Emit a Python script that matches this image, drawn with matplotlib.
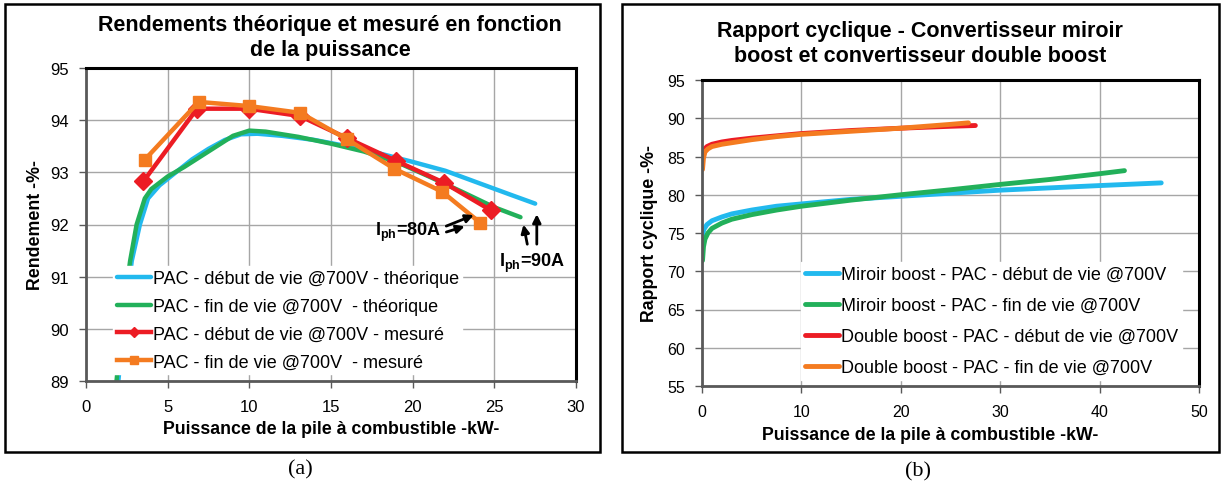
import numpy as np
import matplotlib
matplotlib.use("Agg")
import matplotlib.pyplot as plt
from matplotlib.patches import Rectangle

plt.rcParams['font.family'] = ['Liberation Sans', 'DejaVu Sans']
plt.rcParams['mathtext.fontset'] = 'custom'
plt.rcParams['mathtext.rm'] = 'Liberation Sans'
plt.rcParams['mathtext.bf'] = 'Liberation Sans:bold'

# ---- (a) rendement vs puissance ----
theo_debut_x = [1.85, 2.3, 2.8, 3.3, 3.8, 4.5, 5.5, 6.5, 7.5, 8.5, 9.5, 10.5, 12, 14, 16, 18, 20, 22, 24, 26, 27.5]
theo_debut_y = [88.6, 90.0, 91.3, 92.0, 92.5, 92.75, 93.0, 93.25, 93.45, 93.62, 93.73, 93.74, 93.7, 93.62, 93.5, 93.36, 93.2, 93.03, 92.8, 92.57, 92.4]
theo_fin_x = [1.75, 2.2, 2.7, 3.1, 3.6, 4.0, 5.0, 6.0, 7.0, 8.0, 9.0, 10.0, 11.0, 13.0, 15.0, 17.0, 19.0, 21.0, 23.0, 25.0, 26.6]
theo_fin_y = [88.6, 90.1, 91.3, 92.0, 92.5, 92.68, 92.92, 93.1, 93.3, 93.5, 93.7, 93.8, 93.78, 93.68, 93.55, 93.4, 93.2, 92.92, 92.63, 92.33, 92.14]
mes_debut_x = [3.52, 6.80, 9.97, 13.09, 15.95, 18.98, 21.92, 24.8]
mes_debut_y = [92.83, 94.22, 94.22, 94.08, 93.66, 93.22, 92.80, 92.27]
mes_fin_x = [3.59, 6.9, 10.0, 13.13, 16.0, 18.87, 21.8, 24.15]
mes_fin_y = [93.24, 94.35, 94.27, 94.14, 93.63, 93.07, 92.63, 92.03]

labels_a = ["PAC - début de vie @700V - théorique",
            "PAC - fin de vie @700V  - théorique",
            "PAC - début de vie @700V - mesuré",
            "PAC - fin de vie @700V  - mesuré"]

# ---- (b) rapport cyclique vs puissance ----
miroir_debut_x = [0.05, 0.2, 0.5, 1, 2, 3, 5, 7.5, 10, 15, 20, 25, 30, 35, 40, 46.2]
miroir_debut_y = [74.8, 75.5, 76.1, 76.6, 77.1, 77.5, 78.0, 78.5, 78.8, 79.4, 79.8, 80.2, 80.6, 80.9, 81.2, 81.55]
miroir_fin_x = [0.05, 0.15, 0.3, 0.6, 1, 2, 3, 5, 7.5, 10, 15, 20, 25, 30, 35, 40, 42.5]
miroir_fin_y = [71.4, 73.2, 74.2, 75.0, 75.6, 76.3, 76.8, 77.4, 78.0, 78.5, 79.3, 80.0, 80.65, 81.35, 82.0, 82.75, 83.15]
double_debut_x = [0.05, 0.2, 0.5, 1, 2, 3, 5, 7.5, 10, 15, 20, 25, 27.5]
double_debut_y = [85.3, 85.9, 86.3, 86.6, 86.9, 87.1, 87.4, 87.7, 88.0, 88.4, 88.7, 88.95, 89.05]
double_fin_x = [0.05, 0.15, 0.3, 0.6, 1, 2, 3, 5, 7.5, 10, 15, 20, 25, 26.8]
double_fin_y = [83.3, 84.8, 85.6, 86.0, 86.3, 86.6, 86.8, 87.2, 87.6, 87.9, 88.3, 88.7, 89.2, 89.4]

labels_b = ["Miroir boost - PAC - début de vie @700V",
            "Miroir boost - PAC - fin de vie @700V",
            "Double boost - PAC - début de vie @700V",
            "Double boost - PAC - fin de vie @700V"]

BLUE = '#22B9EE'
GREEN = '#22B05A'
RED = '#EC1C24'
ORANGE = '#F47B20'
GRID = '#A6A6A6'
AXIS = '#595959'

W, H = 1221, 485
fig = plt.figure(figsize=(W / 100, H / 100), dpi=100)


def px_box(x0, y0, x1, y1):
    return [x0 / W, 1 - y1 / H, (x1 - x0) / W, (y1 - y0) / H]


def style_axes(ax, tick_size):
    ax.set_axisbelow(True)
    ax.grid(True, color=GRID, lw=1.0)
    for s in ['top', 'right']:
        ax.spines[s].set_color('black')
        ax.spines[s].set_linewidth(2.2)
    for s in ['left', 'bottom']:
        ax.spines[s].set_color(AXIS)
        ax.spines[s].set_linewidth(2.0)
    ax.tick_params(direction='out', length=5, width=1, color=AXIS,
                   labelsize=tick_size)
    ax.tick_params(axis='x', pad=8)
    ax.tick_params(axis='y', pad=7)


# panel frames
for x0, x1 in [(5, 600), (622, 1219)]:
    fig.add_artist(Rectangle((x0 / W, 1 - 453 / H), (x1 - x0) / W, (453 - 5) / H,
                             transform=fig.transFigure, fill=False,
                             edgecolor='black', lw=1.8))

# ---------------- (a) ----------------
ax1 = fig.add_axes(px_box(86, 69, 576, 382))
ax1.plot(theo_debut_x, theo_debut_y, color=BLUE, lw=3.2, label=labels_a[0], solid_capstyle='round')
ax1.plot(theo_fin_x, theo_fin_y, color=GREEN, lw=3.2, label=labels_a[1], solid_capstyle='round')
ax1.plot(mes_debut_x, mes_debut_y, color=RED, lw=3.2, marker='D', ms=9, label=labels_a[2])
ax1.plot(mes_fin_x, mes_fin_y, color=ORANGE, lw=3.2, marker='s', ms=9, label=labels_a[3])
ax1.set_xlim(0, 30)
ax1.set_ylim(89, 95)
ax1.set_xticks(np.arange(0, 31, 5))
ax1.set_yticks(np.arange(89, 96, 1))
style_axes(ax1, 12)
ax1.set_xlabel("Puissance de la pile à combustible -kW-", fontsize=12.8,
               fontweight='bold', labelpad=4)
ax1.set_ylabel("Rendement -%-", fontsize=12.8, fontweight='bold', labelpad=5)
leg1 = ax1.legend(loc='lower left', bbox_to_anchor=(0.055, 0.022), fontsize=13,
                  frameon=True, fancybox=False, framealpha=1, edgecolor='white',
                  handlelength=1.9, handletextpad=0.1, labelspacing=0.6,
                  borderpad=0.2, markerscale=0.6, borderaxespad=0)

ax1.annotate('', xy=(23.9, 92.2), xytext=(21.9, 91.95),
             arrowprops=dict(arrowstyle='-|>', color='black', lw=2, mutation_scale=12))
ax1.annotate('', xy=(23.35, 91.98), xytext=(21.9, 91.84),
             arrowprops=dict(arrowstyle='-|>', color='black', lw=2, mutation_scale=12))
ax1.text(19.7, 91.86, r'$\mathbf{I_{ph}}$=80A', fontsize=13, fontweight='bold',
         ha='center', va='center')
ax1.annotate('', xy=(26.75, 92.05), xytext=(27.05, 91.57),
             arrowprops=dict(arrowstyle='-|>', color='black', lw=2, mutation_scale=12))
ax1.annotate('', xy=(27.6, 92.25), xytext=(27.6, 91.57),
             arrowprops=dict(arrowstyle='-|>', color='black', lw=2, mutation_scale=12))
ax1.text(27.3, 91.28, r'$\mathbf{I_{ph}}$=90A', fontsize=13, fontweight='bold',
         ha='center', va='center')

fig.text(330 / W, 1 - 38 / H,
         "Rendements théorique et mesuré en fonction\nde la puissance",
         fontsize=15.5, fontweight='bold', ha='center', va='center', linespacing=1.2)

# ---------------- (b) ----------------
ax2 = fig.add_axes(px_box(702, 81, 1199, 387))
ax2.plot(miroir_debut_x, miroir_debut_y, color=BLUE, lw=3.5, label=labels_b[0], solid_capstyle='round')
ax2.plot(miroir_fin_x, miroir_fin_y, color=GREEN, lw=3.5, label=labels_b[1], solid_capstyle='round')
ax2.plot(double_debut_x, double_debut_y, color=RED, lw=3.5, label=labels_b[2], solid_capstyle='round')
ax2.plot(double_fin_x, double_fin_y, color=ORANGE, lw=3.5, label=labels_b[3], solid_capstyle='round')
ax2.set_xlim(0, 50)
ax2.set_ylim(55, 95)
ax2.set_xticks(np.arange(0, 51, 10))
ax2.set_yticks(np.arange(55, 96, 5))
style_axes(ax2, 11.5)
ax2.set_xlabel("Puissance de la pile à combustible -kW-", fontsize=12.8,
               fontweight='bold', labelpad=5, x=0.46)
ax2.set_ylabel("Rapport cyclique -%-", fontsize=12.8, fontweight='bold', labelpad=7)
leg2 = ax2.legend(loc='lower left', bbox_to_anchor=(0.2, 0.02), fontsize=13,
                  frameon=True, fancybox=False, framealpha=1, edgecolor='white',
                  handlelength=1.9, handletextpad=0.1, labelspacing=0.78,
                  borderpad=0.2, borderaxespad=0)

fig.text(920 / W, 1 - 44 / H,
         "Rapport cyclique - Convertisseur miroir\nboost et convertisseur double boost",
         fontsize=15.5, fontweight='bold', ha='center', va='center', linespacing=1.2)

fig.text(300 / W, 1 - 470 / H, "(a)", fontsize=16, family='Liberation Serif',
         ha='center', va='center')
fig.text(918 / W, 1 - 472 / H, "(b)", fontsize=16, family='Liberation Serif',
         ha='center', va='center')

fig.savefig("out.png", dpi=100, facecolor='white')
